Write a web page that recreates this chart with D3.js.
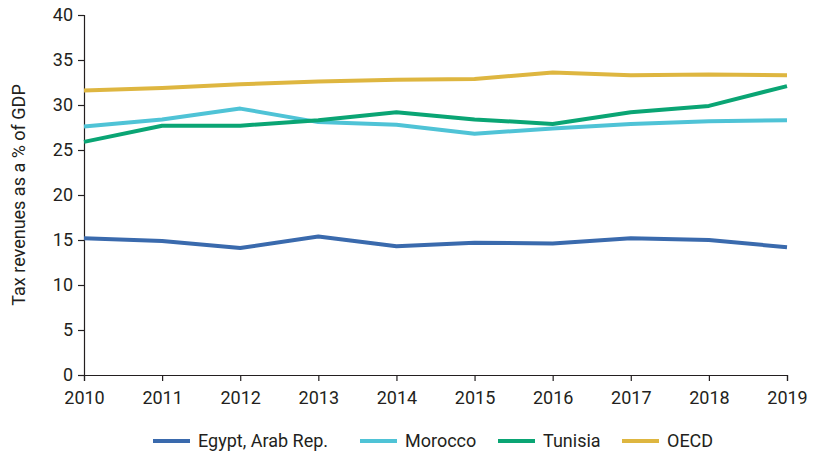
<!DOCTYPE html>
<html>
<head>
<meta charset="utf-8">
<script src="https://cdn.jsdelivr.net/npm/d3@7"></script>
<style>
  body { margin: 0; background: #fff; }
  svg text { font-family: "Roboto", "Noto Sans", sans-serif; fill: #231f20; }
</style>
</head>
<body>
<div id="chart"></div>
<script>
// values (% of GDP)
const years = [2010, 2011, 2012, 2013, 2014, 2015, 2016, 2017, 2018, 2019];
const seriesNames = ["Egypt, Arab Rep.", "Morocco", "Tunisia", "OECD"];
const egypt   = [15.2, 14.9, 14.1, 15.4, 14.3, 14.7, 14.6, 15.2, 15.0, 14.2];
const morocco = [27.6, 28.4, 29.6, 28.1, 27.8, 26.8, 27.4, 27.9, 28.2, 28.3];
const tunisia = [25.9, 27.7, 27.7, 28.3, 29.2, 28.4, 27.9, 29.2, 29.9, 32.1];
const oecd    = [31.6, 31.9, 32.3, 32.6, 32.8, 32.9, 33.6, 33.3, 33.4, 33.3];
const yTicks = [0, 5, 10, 15, 20, 25, 30, 35, 40];
const yTitle = "Tax revenues as a % of GDP";

const colors = ["#3a6aad", "#4fc3d6", "#0aa574", "#deb640"];
const allValues = [egypt, morocco, tunisia, oecd];

let margin = { top: 15, right: 29, bottom: 79, left: 84 },
    width = 816 - margin.left - margin.right,
    height = 454 - margin.top - margin.bottom;

let svg = d3.select("#chart").append("svg")
    .attr("width", 816).attr("height", 454);

let g = svg.append("g").attr("transform", "translate(" + margin.left + "," + margin.top + ")");

let x = d3.scalePoint().domain(years).range([0, width]);
let y = d3.scaleLinear().domain([0, 40]).range([height, 0]);

// y axis
let yAxis = g.append("g").call(d3.axisLeft(y).tickValues(yTicks).tickSize(6).tickPadding(5));
yAxis.selectAll("text").style("font-size", "18px");

// x axis, labels pushed a bit lower like the reference
let xAxis = g.append("g").attr("transform", "translate(0," + height + ")")
    .call(d3.axisBottom(x).tickSize(6).tickPadding(10));
xAxis.selectAll("text").style("font-size", "18px");

[yAxis, xAxis].forEach(a => {
  a.select(".domain").attr("stroke", "#231f20").attr("stroke-width", 1.2);
  a.selectAll(".tick line").attr("stroke", "#231f20").attr("stroke-width", 1.2);
});

svg.append("text")
  .attr("transform", "translate(25," + (margin.top + height / 2) + ") rotate(-90)")
  .attr("text-anchor", "middle")
  .style("font-size", "18px")
  .text(yTitle);

let line = d3.line().x((d, i) => x(years[i])).y(d => y(d));

allValues.forEach((vals, i) => {
  g.append("path")
    .datum(vals)
    .attr("fill", "none")
    .attr("stroke", colors[i])
    .attr("stroke-width", 4)
    .attr("stroke-linejoin", "round")
    .attr("d", line);
});

// legend, swatch left edges
let legendX = [153, 360, 498, 622];
let legend = svg.append("g").attr("transform", "translate(0,441)");
seriesNames.forEach((name, i) => {
  legend.append("line")
    .attr("x1", legendX[i]).attr("x2", legendX[i] + 37)
    .attr("y1", 0).attr("y2", 0)
    .attr("stroke", colors[i]).attr("stroke-width", 4);
  legend.append("text")
    .attr("x", legendX[i] + 45).attr("y", 6)
    .style("font-size", "18px")
    .text(name);
});
</script>
</body>
</html>
